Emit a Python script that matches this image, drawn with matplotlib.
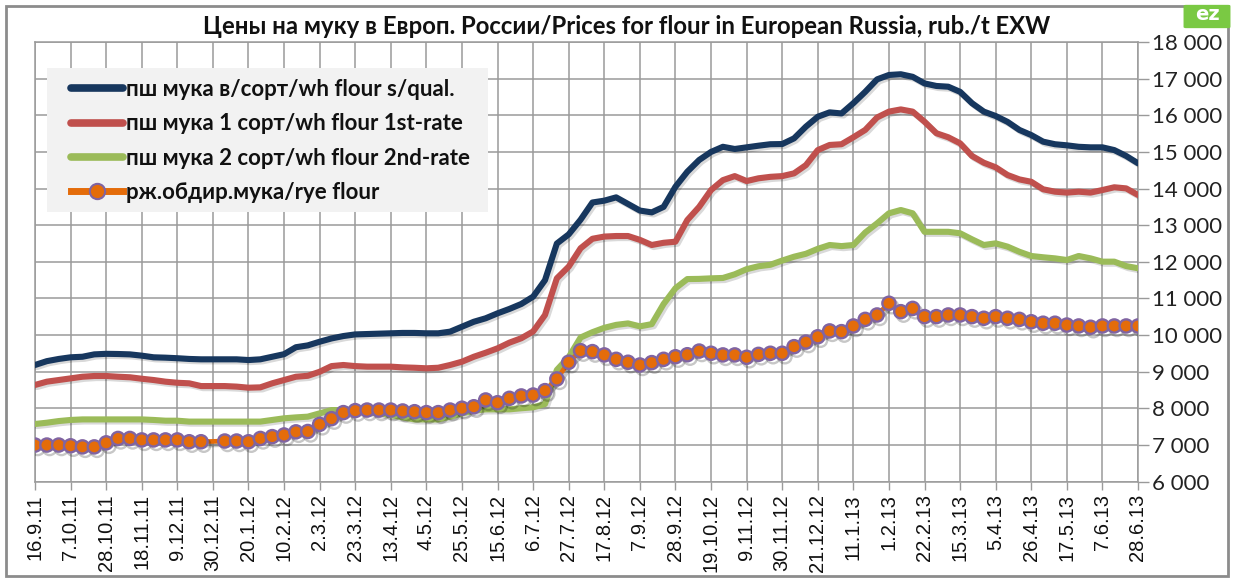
import numpy as np
import matplotlib
matplotlib.use("Agg")
import matplotlib.pyplot as plt
from matplotlib.lines import Line2D
from matplotlib.patches import Rectangle, FancyBboxPatch
import matplotlib.patheffects as pe

# ---- data -------------------------------------------------------------
tick_labels = ["16.9.11", "7.10.11", "28.10.11", "18.11.11", "9.12.11", "30.12.11",
               "20.1.12", "10.2.12", "2.3.12", "23.3.12", "13.4.12", "4.5.12",
               "25.5.12", "15.6.12", "6.7.12", "27.7.12", "17.8.12", "7.9.12",
               "28.9.12", "19.10.12", "9.11.12", "30.11.12", "21.12.12", "11.1.13",
               "1.2.13", "22.2.13", "15.3.13", "5.4.13", "26.4.13", "17.5.13",
               "7.6.13", "28.6.13"]

flour_premium = [9185, 9290, 9350, 9395, 9410, 9475, 9490, 9485, 9475, 9440,
                 9395, 9385, 9370, 9350, 9340, 9340, 9340, 9340, 9320, 9340,
                 9410, 9480, 9670, 9720, 9820, 9910, 9975, 10020, 10030, 10040,
                 10050, 10060, 10060, 10050, 10050, 10095, 10230, 10365, 10460, 10595,
                 10715, 10850, 11050, 11500, 12500, 12750, 13150, 13620, 13670, 13760,
                 13580, 13400, 13350, 13500, 14050, 14460, 14780, 15000, 15140, 15080,
                 15125, 15170, 15210, 15215, 15370, 15690, 15960, 16080, 16050, 16330,
                 16640, 16980, 17100, 17120, 17050, 16870, 16800, 16780, 16640, 16330,
                 16100, 15980, 15820, 15600, 15460, 15280, 15210, 15180, 15140, 15125,
                 15125, 15050, 14890, 14690]

flour_first = [8640, 8730, 8775, 8820, 8865, 8885, 8885, 8865, 8850, 8810,
               8775, 8730, 8700, 8685, 8610, 8610, 8610, 8595, 8565, 8575,
               8685, 8775, 8865, 8890, 9000, 9155, 9185, 9155, 9140, 9140,
               9140, 9120, 9110, 9095, 9110, 9185, 9275, 9410, 9520, 9640,
               9795, 9915, 10100, 10550, 11550, 11870, 12370, 12630, 12690, 12705,
               12705, 12600, 12460, 12520, 12550, 13140, 13500, 13960, 14230, 14340,
               14205, 14280, 14320, 14340, 14415, 14640, 15050, 15190, 15210, 15400,
               15600, 15940, 16100, 16160, 16100, 15825, 15510, 15400, 15235, 14890,
               14705, 14580, 14370, 14250, 14185, 13980, 13915, 13890, 13915, 13890,
               13960, 14035, 14005, 13825]

flour_second = [7575, 7610, 7655, 7685, 7700, 7700, 7700, 7700, 7700, 7700,
                7685, 7665, 7665, 7640, 7640, 7640, 7640, 7640, 7640, 7640,
                7685, 7730, 7755, 7775, 7865, 7955, 7955, 7975, 7910, 7865,
                7820, 7755, 7700, 7700, 7700, 7775, 7865, 7940, 7975, 7975,
                7975, 8005, 8030, 8120, 9050, 9400, 9935, 10080, 10200, 10280,
                10320, 10240, 10300, 10850, 11280, 11530, 11535, 11550, 11560, 11660,
                11800, 11880, 11920, 12035, 12140, 12220, 12355, 12460, 12430, 12460,
                12800, 13050, 13325, 13415, 13325, 12820, 12820, 12820, 12780, 12615,
                12460, 12505, 12415, 12275, 12160, 12125, 12095, 12050, 12160, 12095,
                12005, 12005, 11885, 11825]

rye_flour = [7000, 7000, 7000, 6980, 6950, 6950, 7060, 7180, 7180, 7140,
             7140, 7140, 7140, 7090, 7090, np.nan, 7110, 7110, 7090, 7180,
             7230, 7275, 7360, 7370, 7565, 7720, 7885, 7940, 7955, 7955,
             7955, 7930, 7910, 7885, 7885, 7955, 8005, 8045, 8230, 8155,
             8275, 8340, 8365, 8485, 8805, 9260, 9575, 9550, 9460, 9340,
             9260, 9185, 9250, 9340, 9410, 9465, 9565, 9505, 9460, 9460,
             9395, 9475, 9505, 9505, 9685, 9810, 9955, 10115, 10095, 10250,
             10430, 10550, 10870, 10640, 10730, 10505, 10505, 10550, 10550, 10505,
             10460, 10505, 10460, 10430, 10365, 10325, 10325, 10275, 10250, 10215,
             10250, 10250, 10250, 10250]

series_labels = ["пш мука в/сорт/wh flour s/qual.",
                 "пш мука 1 сорт/wh flour 1st-rate",
                 "пш мука 2 сорт/wh flour 2nd-rate",
                 "рж.обдир.мука/rye flour"]

title = "Цены на муку в Европ. России/Prices for flour in European Russia, rub./t EXW"

y_ticks = list(range(6000, 18001, 1000))

# ---- style --------------------------------------------------------------
C_BLUE = "#17375E"
C_RED = "#C0504D"
C_GREEN = "#9BBB59"
C_ORANGE = "#E46C0A"
C_PURPLE = "#8064A2"
C_GRID = "#9a9a9a"

W, H = 1233, 579
fig = plt.figure(figsize=(W / 100, H / 100), dpi=100)
fig.patch.set_facecolor("white")

L, R, T, B = 35, 1138, 42, 481.7
ax = fig.add_axes([L / W, 1 - B / H, (R - L) / W, (B - T) / H])

x = np.arange(len(flour_premium))
lw = 4.4
shadow = [pe.SimpleLineShadow(offset=(1.5, -1.5), shadow_color="black", alpha=0.15), pe.Normal()]

ax.plot(x, flour_premium, color=C_BLUE, lw=lw, solid_capstyle="round", path_effects=shadow, zorder=4)
ax.plot(x, flour_first, color=C_RED, lw=lw, solid_capstyle="round", path_effects=shadow, zorder=4)
ax.plot(x, flour_second, color=C_GREEN, lw=lw, solid_capstyle="round", path_effects=shadow, zorder=4)

rye = np.array(rye_flour, dtype=float)
ok = ~np.isnan(rye)
ax.plot(x[ok], rye[ok], color=C_ORANGE, lw=3.4, marker="o", markersize=9.5,
        markerfacecolor=C_ORANGE, markeredgecolor=C_PURPLE, markeredgewidth=1.7,
        path_effects=[pe.SimpleLineShadow(offset=(2, -2.5), shadow_color="black", alpha=0.22), pe.Normal()],
        zorder=5)

ax.set_xlim(0, 93)
ax.set_ylim(6000, 18000)
ax.set_xticks(np.arange(0, 94, 3))
ax.set_xticklabels(tick_labels, rotation=90, fontsize=14.5, family="Liberation Sans",
                   va="top", ha="center", color="#111111")
ax.yaxis.tick_right()
ax.set_yticks(y_ticks)
ax.set_yticklabels([f"{v:,}".replace(",", " ") for v in y_ticks], fontsize=16, family="Lato",
                   color="#222222")
ax.tick_params(axis="x", direction="out", length=6, width=1, color=C_GRID, pad=3)
ax.tick_params(axis="y", direction="out", length=8, width=1, color=C_GRID, pad=2)
ax.grid(True, color=C_GRID, lw=1.1)
ax.set_axisbelow(True)
for s in ax.spines.values():
    s.set_color(C_GRID)
    s.set_linewidth(1.1)

# title
fig.text(627 / W, 1 - 27 / H, title, ha="center", va="center", fontsize=17.2,
         fontweight="bold", family="Lato", color="#111111")

# legend background
fig.patches.append(Rectangle((47 / W, 1 - 212 / H), (488 - 47) / W, (212 - 68) / H,
                             transform=fig.transFigure, facecolor="#f2f2f2",
                             edgecolor="none", zorder=6))

handles = [Line2D([], [], color=C_BLUE, lw=5.5, solid_capstyle="round"),
           Line2D([], [], color=C_RED, lw=5.5, solid_capstyle="round"),
           Line2D([], [], color=C_GREEN, lw=5.5, solid_capstyle="round"),
           Line2D([], [], color=C_ORANGE, lw=5, marker="o", markersize=11,
                  markerfacecolor=C_ORANGE, markeredgecolor=C_PURPLE, markeredgewidth=1.5)]
leg = fig.legend(handles, series_labels, loc="upper left",
                 bbox_to_anchor=(71 / W, 1 - 79 / H), frameon=False,
                 prop={"family": "Lato", "weight": "bold", "size": 16},
                 handlelength=2.35, handletextpad=0.12, labelspacing=0.6,
                 borderpad=0, borderaxespad=0)
leg.set_zorder(7)
for t in leg.get_texts():
    t.set_color("#111111")

# outer border
fig.patches.append(Rectangle((6 / W, 3 / H), (1228 - 6) / W, (576 - 6) / H,
                             transform=fig.transFigure, fill=False,
                             edgecolor="#8c8c8c", lw=2))

# logo
fig.patches.append(FancyBboxPatch((1186 / W, 1 - 27 / H), 42 / W, 21 / H,
                                  boxstyle="round,pad=0.002", transform=fig.transFigure,
                                  facecolor="#7ac943", edgecolor="none"))
fig.text(1207 / W, 1 - 15 / H, "ez", ha="center", va="center", fontsize=14,
         fontweight="bold", color="white", family="DejaVu Sans")

fig.savefig("out.png", dpi=100, facecolor="white")
